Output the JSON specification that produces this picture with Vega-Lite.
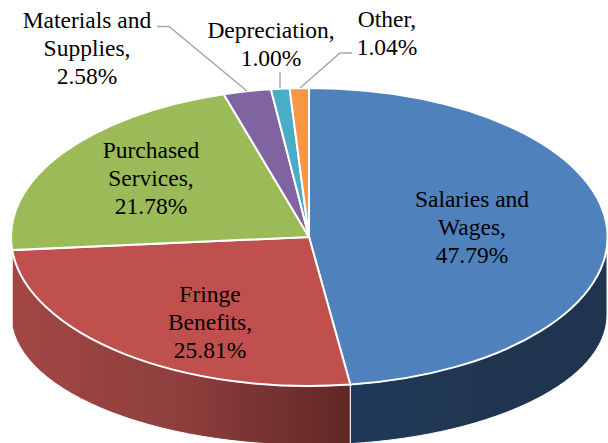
{
"$schema":"https://vega.github.io/schema/vega-lite/v6.json",
"width":608,"height":443,"padding":0,"autosize":{"type":"none"},
"background":"white","view":{"stroke":null},
"data":{"values":[
{"expense":"Salaries and Wages","share":47.79,"label":"Salaries and\nWages,\n47.79%"},
{"expense":"Fringe Benefits","share":25.81,"label":"Fringe\nBenefits,\n25.81%"},
{"expense":"Purchased Services","share":21.78,"label":"Purchased\nServices,\n21.78%"},
{"expense":"Materials and Supplies","share":2.58,"label":"Materials and\nSupplies,\n2.58%"},
{"expense":"Depreciation","share":1.00,"label":"Depreciation,\n1.00%"},
{"expense":"Other","share":1.04,"label":"Other,\n1.04%"}
]},
"encoding":{
"x":{"datum":0,"type":"quantitative","scale":{"domain":[-309,299],"nice":false,"zero":false},"axis":null},
"y":{"datum":0,"type":"quantitative","scale":{"domain":[206,-237],"nice":false,"zero":false},"axis":null}
},
"layer":[
{"transform":[{"filter":"datum.expense==='Salaries and Wages'"}],
 "mark":{"type":"point","filled":true,"opacity":1,"size":4,"stroke":"white","strokeWidth":1,"fill":{"gradient":"linear","x1":0,"x2":1,"y1":0,"y2":0,"stops":[{"offset":0,"color":"#20395a"},{"offset":0.5,"color":"#203650"},{"offset":1,"color":"#1f344f"}]},"shape":"M298 0A298 149 0 0 1 41.3 147.6L41.3 206.7A298 130 0 0 0 298 78Z"}},
{"transform":[{"filter":"datum.expense==='Fringe Benefits'"}],
 "mark":{"type":"point","filled":true,"opacity":1,"size":4,"stroke":"white","strokeWidth":1,"fill":{"gradient":"linear","x1":0,"x2":1,"y1":0,"y2":0,"stops":[{"offset":0,"color":"#a24744"},{"offset":0.5,"color":"#8e3f3d"},{"offset":1,"color":"#612725"}]},"shape":"M41.3 147.6A298 149 0 0 1 -296.8 13.1L-296.8 89.7A298 130 0 0 0 41.3 206.7Z"}},
{"mark":{"type":"point","filled":true,"opacity":1,"size":4,"stroke":"white","strokeWidth":2},
 "encoding":{
  "shape":{"field":"expense","type":"nominal","legend":null,"scale":{"domain":["Salaries and Wages","Fringe Benefits","Purchased Services","Materials and Supplies","Depreciation","Other"],"range":[
   "M0 0L0 -149A298 149 0 0 1 41.3 147.6Z",
   "M0 0L41.3 147.6A298 149 0 0 1 -296.8 13.1Z",
   "M0 0L-296.8 13.1A298 149 0 0 1 -85.3 -142.8Z",
   "M0 0L-85.3 -142.8A298 149 0 0 1 -38.1 -147.8Z",
   "M0 0L-38.1 -147.8A298 149 0 0 1 -19.4 -148.7Z",
   "M0 0L-19.4 -148.7A298 149 0 0 1 0 -149Z"]}},
  "fill":{"field":"expense","type":"nominal","legend":null,"scale":{"domain":["Salaries and Wages","Fringe Benefits","Purchased Services","Materials and Supplies","Depreciation","Other"],"range":["#4f81bd","#c0504d","#9bbb59","#8064a2","#4bacc6","#f79646"]}}
 }},
{"transform":[{"filter":"datum.expense==='Materials and Supplies' || datum.expense==='Depreciation' || datum.expense==='Other'"}],
 "mark":{"type":"point","filled":false,"opacity":1,"size":4,"stroke":"#a6a6a6","strokeWidth":1.5},
 "encoding":{
  "shape":{"field":"expense","type":"nominal","legend":null,"scale":{"domain":["Materials and Supplies","Depreciation","Other"],"range":[
   "M-152 -210.5L-140 -210.5L-62 -146",
   "M-29 -165L-29 -149",
   "M-9 -149L31 -184L43 -184"]}}
 }},
{"transform":[{"filter":"datum.expense==='Salaries and Wages'"}],"mark":{"type":"text","font":"Liberation Serif","fontSize":23.5,"lineHeight":28,"lineBreak":"\n","align":"center","baseline":"middle","color":"#000000"},"encoding":{"text":{"field":"label"},"x":{"datum":163},"y":{"datum":-37}}},
{"transform":[{"filter":"datum.expense==='Fringe Benefits'"}],"mark":{"type":"text","font":"Liberation Serif","fontSize":23.5,"lineHeight":28,"lineBreak":"\n","align":"center","baseline":"middle","color":"#000000"},"encoding":{"text":{"field":"label"},"x":{"datum":-99},"y":{"datum":58}}},
{"transform":[{"filter":"datum.expense==='Purchased Services'"}],"mark":{"type":"text","font":"Liberation Serif","fontSize":23.5,"lineHeight":28,"lineBreak":"\n","align":"center","baseline":"middle","color":"#000000"},"encoding":{"text":{"field":"label"},"x":{"datum":-158},"y":{"datum":-86}}},
{"transform":[{"filter":"datum.expense==='Materials and Supplies'"}],"mark":{"type":"text","font":"Liberation Serif","fontSize":23.5,"lineHeight":28,"lineBreak":"\n","align":"center","baseline":"middle","color":"#000000"},"encoding":{"text":{"field":"label"},"x":{"datum":-222},"y":{"datum":-216}}},
{"transform":[{"filter":"datum.expense==='Depreciation'"}],"mark":{"type":"text","font":"Liberation Serif","fontSize":23.5,"lineHeight":28,"lineBreak":"\n","align":"center","baseline":"middle","color":"#000000"},"encoding":{"text":{"field":"label"},"x":{"datum":-38},"y":{"datum":-206}}},
{"transform":[{"filter":"datum.expense==='Other'"}],"mark":{"type":"text","font":"Liberation Serif","fontSize":23.5,"lineHeight":28,"lineBreak":"\n","align":"center","baseline":"middle","color":"#000000"},"encoding":{"text":{"field":"label"},"x":{"datum":78},"y":{"datum":-217}}}
],
"resolve":{"scale":{"shape":"independent","fill":"independent"}}
}
